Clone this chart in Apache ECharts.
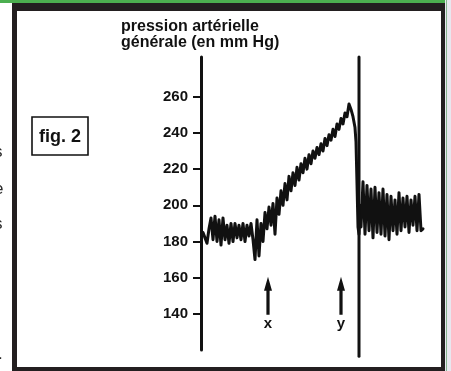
<!DOCTYPE html>
<html>
<head>
<meta charset="utf-8">
<script src="https://cdn.jsdelivr.net/npm/echarts@6/dist/echarts.min.js"></script>
<style>
html,body{margin:0;padding:0;background:#fff;}
#chart{width:451px;height:371px;}
</style>
</head>
<body>
<div id="chart"></div>
<script>
// ---- data ----
const titleText = 'pression artérielle\ngénérale (en mm Hg)';
const tickValues = [140, 160, 180, 200, 220, 240, 260];
// time (arbitrary units) and arterial pressure (mm Hg)
const time = [
  1,2,3,4,5,6,7,8,9,10,11,12,13,14,15,16,17,18,19,20,
  21,22,23,24,25,26,27,28,29,30,31,32,33,34,35,36,37,38,39,40,
  41,42,43,44,45,46,47,48,49,50,51,52,53,54,55,56,57,58,59,60,
  61,62,63,64,65,66,67,68,69,70,71,72,73,74,75,76,77,77.5,78,78.5,
  79,79.5,80,81,82,83,84,85,86,87,88,89,90,91,92,93,94,95,96,97,
  98,99,100,101,102,103,104,105,106,107,108,109,110,111
];
const pressure = [
  185,182,179,187,193,181,194,180,192,178,193,181,189,179,190,180,190,182,189,181,
  190,180,189,183,190,181,170,192,172,190,180,196,187,199,189,201,184,204,195,208,
  200,212,203,216,208,218,211,221,214,223,218,226,220,228,223,230,226,232,228,234,
  230,237,233,239,236,242,238,245,242,248,245,251,249,256,253,249,243,235,212,188,
  184,200,188,213,184,211,186,209,182,210,185,207,184,209,183,206,181,205,186,203,
  184,207,186,204,188,205,185,203,189,205,186,206,186,187
];
const markerTime = 79;            // vertical line after the trace peak
const arrowTimes = [33.5, 70];
const arrowLabels = ['x', 'y'];
const arrowLevel = 150;
const figLabel = 'fig. 2';
const sideLetters = ['t', 's', 'e', 's', '.'];

const chart = echarts.init(document.getElementById('chart'), null, {renderer: 'canvas'});
const ink = '#111111';

const traceData = time.map((t, i) => [t, pressure[i]]);
const arrowData = arrowTimes.map((t, i) => ({value: [t, arrowLevel], name: arrowLabels[i]}));

const sideY = [18, 144, 181, 216, 346];
const sideX = [-5, -6, -6, -6, -2];

chart.setOption({
  animation: false,
  backgroundColor: '#ffffff',
  title: {
    text: titleText,
    left: 121, top: 19, padding: 0,
    textStyle: {fontFamily: 'Liberation Sans, Arial, sans-serif', fontSize: 16, fontWeight: 'bold', color: ink, lineHeight: 16}
  },
  grid: {left: 201, top: 57, width: 224, height: 293, containLabel: false},
  xAxis: {type: 'value', min: 0, max: 112, show: false},
  yAxis: {
    type: 'value', min: 120, max: 282,
    splitLine: {show: false},
    axisLine: {show: true, lineStyle: {color: ink, width: 3}},
    axisTick: {show: true, length: 8, customValues: tickValues, lineStyle: {color: ink, width: 2}},
    axisLabel: {
      show: true, customValues: tickValues, margin: 13,
      fontFamily: 'Liberation Sans, Arial, sans-serif', fontSize: 15, fontWeight: 'bold', color: ink
    }
  },
  graphic: [
    {type: 'rect', z: -20, silent: true, shape: {x: 0, y: 0, width: 451, height: 3}, style: {fill: '#4caf50'}},
    {type: 'rect', z: -20, silent: true, shape: {x: 445, y: 0, width: 6, height: 371}, style: {fill: '#e8e7ef'}},
    {type: 'rect', z: -19, silent: true, shape: {x: 446, y: 0, width: 1, height: 371}, style: {fill: '#86b48f'}},
    {type: 'rect', z: -18, silent: true, shape: {x: 12, y: 3, width: 433, height: 368}, style: {fill: '#231f20'}},
    {type: 'rect', z: -17, silent: true, shape: {x: 17, y: 11, width: 424, height: 356}, style: {fill: '#ffffff'}},
    {type: 'rect', z: 5, silent: true, shape: {x: 32, y: 117, width: 56, height: 38}, style: {fill: '#fff', stroke: ink, lineWidth: 1.6}},
    {type: 'text', z: 6, silent: true, x: 60, y: 137, style: {text: figLabel, fill: ink, font: 'bold 18px "Liberation Sans", Arial, sans-serif', align: 'center', verticalAlign: 'middle'}},
  ].concat(sideLetters.map((ch, i) => ({
    type: 'text', z: 6, silent: true, x: sideX[i], y: sideY[i],
    style: {text: ch, fill: '#2a2a2a', font: '17px "Liberation Sans", Arial, sans-serif'}
  }))),
  series: [
    {
      type: 'line', data: traceData, showSymbol: false, symbol: 'none', z: 3,
      lineStyle: {color: ink, width: 3, join: 'round', cap: 'round'}
    },
    {
      type: 'line', data: [[markerTime, 282], [markerTime, 116.5]], clip: false, symbol: 'none', z: 4,
      lineStyle: {color: ink, width: 3, cap: 'round'}
    },
    {
      type: 'scatter', data: arrowData, z: 4,
      symbol: 'path://M4,0 L8,14 L5.6,14 L5.6,38 L2.4,38 L2.4,14 L0,14 Z',
      symbolSize: [8, 38], symbolKeepAspect: false,
      itemStyle: {color: ink, opacity: 1},
      label: {show: true, position: 'bottom', distance: 2, formatter: '{b}',
        fontFamily: 'Liberation Sans, Arial, sans-serif', fontSize: 15, fontWeight: 'bold', color: ink}
    }
  ]
});
</script>
</body>
</html>
